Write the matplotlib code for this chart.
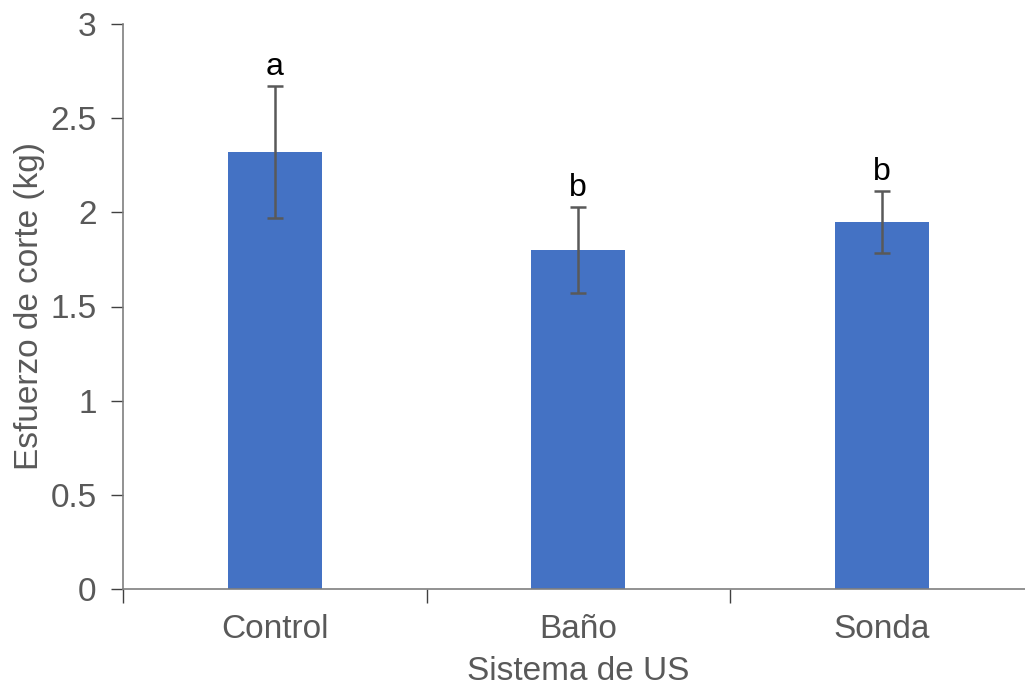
import matplotlib.pyplot as plt

plt.rcParams['font.family'] = ['Liberation Sans', 'DejaVu Sans']

categories = ["Control", "Baño", "Sonda"]
values = [2.32, 1.80, 1.95]
errors = [0.35, 0.23, 0.165]
letters = ["a", "b", "b"]

gray = "#595959"

fig = plt.figure(figsize=(10.25, 6.9), dpi=100)
ax = fig.add_axes([123 / 1025, 101 / 690, 910.5 / 1025, 565 / 690])

x = range(len(categories))
ax.bar(x, values, width=0.31, color="#4472C4", zorder=2)
ax.errorbar(x, values, yerr=errors, fmt="none", ecolor=gray, elinewidth=1.8,
            capsize=6, capthick=1.8, zorder=3)

for i, (v, e, l) in enumerate(zip(values, errors, letters)):
    ax.annotate(l, (i, v + e), xytext=(0, 3), textcoords="offset points",
                ha="center", va="bottom", fontsize=23, color="black")

ax.set_xlim(-0.5, 2.5)
ax.set_ylim(0, 3)
ax.set_yticks([0, 0.5, 1, 1.5, 2, 2.5, 3])
ax.set_yticklabels(["0", "0.5", "1", "1.5", "2", "2.5", "3"])
ax.set_xticks(x)
ax.set_xticklabels(categories)
ax.set_xticks([-0.5, 0.5, 1.5], minor=True)
ax.tick_params(axis="x", which="major", length=0, pad=18, labelsize=24, labelcolor=gray)
ax.tick_params(axis="x", which="minor", length=10, width=1, color="#404040")
ax.tick_params(axis="y", length=9, width=1, color="#404040", labelsize=24,
               labelcolor=gray, pad=10)

for s in ["top", "right"]:
    ax.spines[s].set_visible(False)
for s in ["left", "bottom"]:
    ax.spines[s].set_color("#7f7f7f")
    ax.spines[s].set_linewidth(1.2)

ax.set_xlabel("Sistema de US", fontsize=24, color=gray, labelpad=8)
ax.set_ylabel("Esfuerzo de corte (kg)", fontsize=24, color=gray, labelpad=4)

fig.savefig("out.png", dpi=100)
